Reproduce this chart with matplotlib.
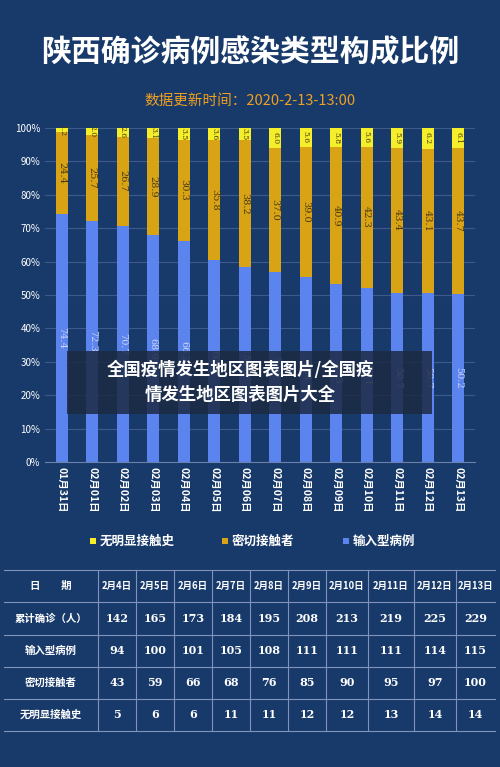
import matplotlib
matplotlib.use("Agg")
import matplotlib.pyplot as plt
import numpy as np

plt.rcParams['font.family'] = ['Noto Sans CJK SC', 'DejaVu Sans']

dates = ["01月31日","02月01日","02月02日","02月03日","02月04日","02月05日","02月06日",
         "02月07日","02月08日","02月09日","02月10日","02月11日","02月12日","02月13日"]
unknown = [1.2,2.0,2.6,3.1,3.5,3.6,3.5,6.0,5.6,5.8,5.6,5.9,6.2,6.1]
close = [24.4,25.7,26.7,28.9,30.3,35.8,38.2,37.0,39.0,40.9,42.3,43.4,43.1,43.7]
imported = [74.4,72.3,70.7,68.0,66.2,60.6,58.3,57.0,55.4,53.3,52.1,50.7,50.7,50.2]
series_names = ["无明显接触史", "密切接触者", "输入型病例"]

table_dates = ["2月4日","2月5日","2月6日","2月7日","2月8日","2月9日","2月10日","2月11日","2月12日","2月13日"]
row_names = ["累计确诊（人）", "输入型病例", "密切接触者", "无明显接触史"]
total_cases = [142,165,173,184,195,208,213,219,225,229]
imported_cases = [94,100,101,105,108,111,111,111,114,115]
close_cases = [43,59,66,68,76,85,90,95,97,100]
unknown_cases = [5,6,6,11,11,12,12,13,14,14]

BG = "#183a6a"
C_UNK, C_CLOSE, C_IMP = "#f5ee2a", "#d9a316", "#5b84ee"
W, H = 500, 767

fig = plt.figure(figsize=(5, 7.67), dpi=100, facecolor=BG)

def fx(x): return x / W
def fy(y): return 1 - y / H

fig.text(0.5, fy(52), "陕西确诊病例感染类型构成比例", color="white", fontsize=21.5,
         fontweight="bold", ha="center", va="center")
fig.text(0.5, fy(101), "数据更新时间：2020-2-13-13:00", color="#f0a020", fontsize=10.5,
         ha="center", va="center")

ax = fig.add_axes([fx(45), fy(462), fx(430), 334 / H])
ax.set_facecolor(BG)
x = np.arange(len(dates))
bw = 0.4
ax.bar(x, imported, bw, color=C_IMP)
ax.bar(x, close, bw, bottom=imported, color=C_CLOSE)
b3 = np.array(imported) + np.array(close)
ax.bar(x, unknown, bw, bottom=b3, color=C_UNK)
for i in range(len(x)):
    ax.text(x[i], imported[i] / 2, f"{imported[i]:.1f}", rotation=270, ha="center",
            va="center", fontsize=7, color="#c8d4f8", family="DejaVu Serif")
    ax.text(x[i], imported[i] + close[i] / 2, f"{close[i]:.1f}", rotation=270, ha="center",
            va="center", fontsize=7, color="#4a3a10", family="DejaVu Serif")
    ax.text(x[i], b3[i] + unknown[i] / 2, f"{unknown[i]:.1f}", rotation=270, ha="center",
            va="center", fontsize=5.5, color="#4a3a10", family="DejaVu Serif")
ax.set_ylim(0, 100)
ax.set_xlim(-0.55, len(x) - 0.45)
ax.set_yticks(range(0, 101, 10))
ax.set_yticklabels([f"{v}%" for v in range(0, 101, 10)], fontsize=7, color="white")
ax.set_xticks(x)
ax.set_xticklabels(dates, rotation=270, fontsize=7.5, color="white", fontweight="bold")
ax.tick_params(length=0)
ax.grid(axis="y", color="#3d5b8a", lw=0.8)
ax.set_axisbelow(True)
for s in ["top", "right", "left"]:
    ax.spines[s].set_visible(False)
ax.spines["bottom"].set_color("#6a82aa")

# overlay caption
fig.patches.append(plt.Rectangle((fx(67), fy(414)), fx(365), 63 / H, transform=fig.transFigure,
                                 facecolor="#1c2a44", alpha=0.85, edgecolor="none"))
fig.text(fx(240), fy(370), "全国疫情发生地区图表图片/全国疫", color="white", fontsize=12.5,
         fontweight="bold", ha="center", va="center")
fig.text(fx(240), fy(395), "情发生地区图表图片大全", color="white", fontsize=12.5,
         fontweight="bold", ha="center", va="center")

# legend
leg_x = [90, 222, 343]
for lx, name, c in zip(leg_x, series_names, [C_UNK, C_CLOSE, C_IMP]):
    fig.patches.append(plt.Rectangle((fx(lx), fy(544)), fx(6), 6 / H, transform=fig.transFigure,
                                     facecolor=c, edgecolor="none"))
    fig.text(fx(lx + 10), fy(541), name, color="white", fontsize=9, fontweight="bold", va="center")

# table
rows_y = [570, 602, 635, 667, 699, 731]
cols_x = [4, 98, 136, 174, 212, 250, 288, 326, 368, 414, 456, 495]
lc = "#7f94b8"
for yy in rows_y:
    fig.lines.append(plt.Line2D([fx(4), fx(495)], [fy(yy), fy(yy)], transform=fig.transFigure, color=lc, lw=0.8))
for xx in cols_x[1:-1]:
    fig.lines.append(plt.Line2D([fx(xx), fx(xx)], [fy(570), fy(731)], transform=fig.transFigure, color=lc, lw=0.8))
cells = [["日　　期"] + table_dates,
         [row_names[0]] + [str(v) for v in total_cases],
         [row_names[1]] + [str(v) for v in imported_cases],
         [row_names[2]] + [str(v) for v in close_cases],
         [row_names[3]] + [str(v) for v in unknown_cases]]
for r, row in enumerate(cells):
    yc = (rows_y[r] + rows_y[r + 1]) / 2
    for c, val in enumerate(row):
        xc = (cols_x[c] + cols_x[c + 1]) / 2
        fs = 7.5 if c == 0 else (6.8 if r == 0 else 8)
        fam = ['Noto Sans CJK SC', 'DejaVu Sans'] if (c == 0 or r == 0) else ['DejaVu Serif']
        fig.text(fx(xc), fy(yc), val, color="white", fontsize=fs, fontweight="bold",
                 ha="center", va="center", family=fam)

fig.savefig("out.png", dpi=100, facecolor=BG)
